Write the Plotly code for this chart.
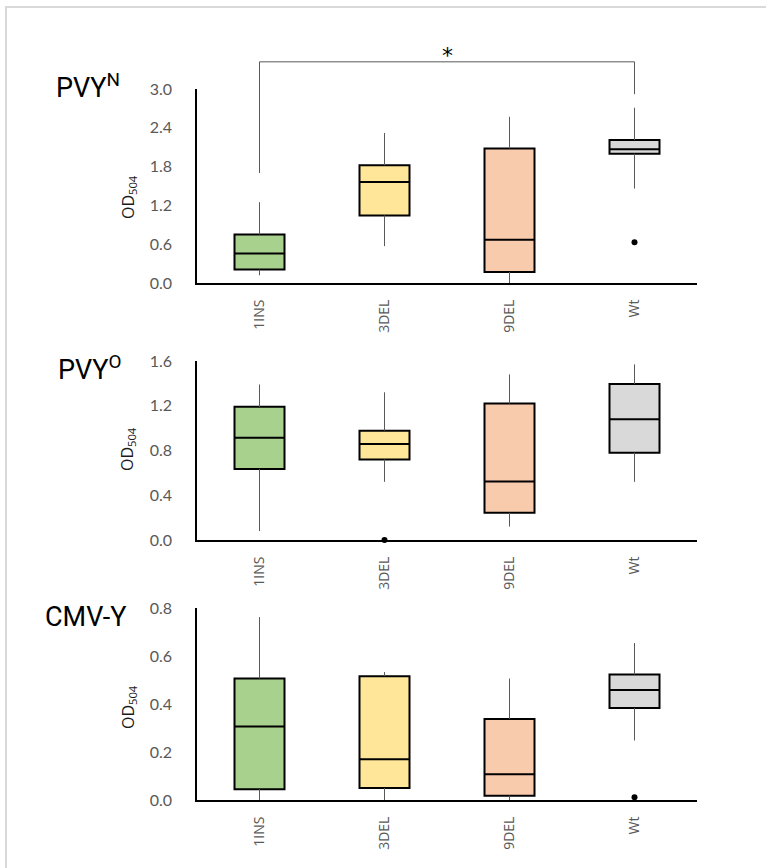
import plotly.graph_objects as go

W, H = 766, 868

# ---------------- data ----------------
categories = ['1INS', '3DEL', '9DEL', 'Wt']
fill_colors = ['#A9D18E', '#FFE699', '#F8CBAD', '#D9D9D9']

pvyn_lower = [0.12, 0.57, 0.00, 1.46]
pvyn_q1 = [0.207, 1.045, 0.17, 2.00]
pvyn_median = [0.455, 1.56, 0.667, 2.07]
pvyn_q3 = [0.75, 1.82, 2.08, 2.21]
pvyn_upper = [1.25, 2.32, 2.57, 2.71]
pvyn_out_x = ['Wt']
pvyn_out_y = [0.63]

pvyo_lower = [0.08, 0.52, 0.12, 0.52]
pvyo_q1 = [0.635, 0.72, 0.244, 0.78]
pvyo_median = [0.915, 0.858, 0.524, 1.08]
pvyo_q3 = [1.19, 0.977, 1.22, 1.395]
pvyo_upper = [1.39, 1.32, 1.48, 1.57]
pvyo_out_x = ['3DEL']
pvyo_out_y = [0.0]

cmv_lower = [0.0, 0.0, 0.0, 0.248]
cmv_q1 = [0.045, 0.05, 0.018, 0.383]
cmv_median = [0.306, 0.17, 0.107, 0.458]
cmv_q3 = [0.506, 0.516, 0.338, 0.523]
cmv_upper = [0.762, 0.533, 0.506, 0.654]
cmv_out_x = ['Wt']
cmv_out_y = [0.011]

panel_titles = ['PVY<sup>N</sup>', 'PVY<sup>O</sup>', 'CMV-Y']
y_ranges = [[0, 3.0], [0, 1.6], [0, 0.8]]
y_dticks = [0.6, 0.4, 0.2]

# significance bracket (panel 1, data units)
sig_from, sig_to = '1INS', 'Wt'
sig_left_y, sig_top_y, sig_right_y = 1.70, 3.42, 2.92
sig_label = '*'

# ---------------- layout geometry (pixels) ----------------
def px(x):
    return x / W

def py(y):
    return 1 - y / H

x_dom = [px(197), px(697)]
y_doms = [[py(283), py(89)], [py(540), py(361)], [py(800), py(608)]]
title_pos = [(54, 86), (56, 368), (43, 617)]
ytitle_y = [197, 449, 707]

panels = [
    (pvyn_lower, pvyn_q1, pvyn_median, pvyn_q3, pvyn_upper, pvyn_out_x, pvyn_out_y),
    (pvyo_lower, pvyo_q1, pvyo_median, pvyo_q3, pvyo_upper, pvyo_out_x, pvyo_out_y),
    (cmv_lower, cmv_q1, cmv_median, cmv_q3, cmv_upper, cmv_out_x, cmv_out_y),
]

fig = go.Figure()
layout = dict(
    width=W, height=H,
    margin=dict(l=0, r=0, t=0, b=0, pad=0, autoexpand=False),
    paper_bgcolor='white', plot_bgcolor='white',
    showlegend=False, boxmode='overlay',
    annotations=[], shapes=[],
)

for p, (lo, q1, med, q3, up, ox, oy) in enumerate(panels):
    sfx = '' if p == 0 else str(p + 1)
    xa, ya = 'x' + sfx, 'y' + sfx
    # whiskers
    wx, wy = [], []
    for i, c in enumerate(categories):
        wx += [c, c, None, c, c, None]
        wy += [lo[i], q1[i], None, q3[i], up[i], None]
    fig.add_trace(go.Scatter(x=wx, y=wy, mode='lines', xaxis=xa, yaxis=ya,
                             line=dict(color='#595959', width=1), hoverinfo='skip'))
    # boxes
    for i, c in enumerate(categories):
        fig.add_trace(go.Box(
            x=[c], q1=[q1[i]], median=[med[i]], q3=[q3[i]],
            lowerfence=[q1[i]], upperfence=[q3[i]],
            width=0.4, whiskerwidth=0, boxpoints=False,
            fillcolor=fill_colors[i], line=dict(color='black', width=2),
            xaxis=xa, yaxis=ya, hoverinfo='skip'))
    # outliers
    fig.add_trace(go.Scatter(x=ox, y=oy, mode='markers', xaxis=xa, yaxis=ya,
                             marker=dict(color='black', size=6), cliponaxis=False,
                             hoverinfo='skip'))

    xkey = 'xaxis' + sfx
    ykey = 'yaxis' + sfx
    layout[xkey] = dict(
        domain=x_dom, anchor=ya, type='category',
        categoryorder='array', categoryarray=categories,
        range=[-0.5, len(categories) - 0.5],
        showline=True, linecolor='black', linewidth=2,
        showgrid=False, zeroline=False, ticks='',
        tickangle=-90, ticklabelstandoff=9, automargin=False,
        tickfont=dict(family='Open Sans', size=14, color='#595959'),
    )
    layout[ykey] = dict(
        domain=y_doms[p], anchor=xa, range=y_ranges[p],
        tick0=0, dtick=y_dticks[p], tickformat='.1f',
        showline=True, linecolor='black', linewidth=1.5,
        showgrid=False, zeroline=False, ticks='',
        ticklabelstandoff=20, automargin=False,
        tickfont=dict(family='Lato', size=16, color='#595959'),
    )
    layout['annotations'].append(dict(
        text=panel_titles[p], xref='paper', yref='paper',
        x=px(title_pos[p][0]), y=py(title_pos[p][1]),
        xanchor='left', yanchor='middle', showarrow=False,
        font=dict(family='Roboto', size=27, color='black')))
    layout['annotations'].append(dict(
        text='OD<sub>504</sub>', xref='paper', yref='paper',
        x=px(128), y=py(ytitle_y[p]), textangle=-90,
        xanchor='center', yanchor='middle', showarrow=False,
        font=dict(family='Open Sans', size=16, color='#1a1a1a')))

# significance bracket in paper coords derived from panel-1 data scale
def p1_x(cat):
    i = categories.index(cat)
    return x_dom[0] + (i + 0.5) / len(categories) * (x_dom[1] - x_dom[0])

def p1_y(v):
    d0, d1 = y_doms[0]
    r0, r1 = y_ranges[0]
    return d0 + (v - r0) / (r1 - r0) * (d1 - d0)

xl, xr = p1_x(sig_from), p1_x(sig_to)
path = (f'M {xl},{p1_y(sig_left_y)} L {xl},{p1_y(sig_top_y)} '
        f'L {xr},{p1_y(sig_top_y)} L {xr},{p1_y(sig_right_y)}')
layout['shapes'].append(dict(type='path', path=path, xref='paper', yref='paper',
                             line=dict(color='#595959', width=1)))
layout['annotations'].append(dict(
    text=sig_label, xref='paper', yref='paper',
    x=(xl + xr) / 2, y=p1_y(sig_top_y) + 6 / H, yanchor='middle', xanchor='center',
    showarrow=False, font=dict(family='DejaVu Sans', size=22, color='black')))

# outer frame (top and left edges)
frame = f'M {px(6)},0 L {px(6)},{py(7)} L 1,{py(7)}'
layout['shapes'].append(dict(type='path', path=frame, xref='paper', yref='paper',
                             line=dict(color='#D9D9D9', width=2), layer='below'))

fig.update_layout(**layout)
fig.write_html('out.html')
